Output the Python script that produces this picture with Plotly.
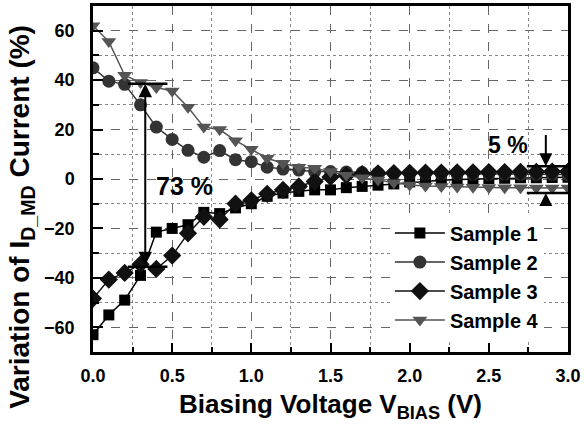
import plotly.graph_objects as go

x_bias = [round(i * 0.1, 1) for i in range(31)]

sample1 = [-63, -55, -49, -39, -21.5, -20, -18.5, -13.5, -14, -11.7, -10, -7, -5.7, -5, -4.4,
           -4.4, -3.5, -3, -2.5, -2, -1.2, -0.8, -0.5, -0.2, 0, 0.2, 0.3, 0.5, 0.5, 0.6, 0.7]
sample2 = [45, 39.6, 38.3, 30, 21, 16, 11.6, 8.8, 11.5, 7.8, 7, 4.8, 4, 3.6, 3,
           3, 2.8, 2.6, 2.4, 2.3, 2.2, 2.2, 2.1, 2.1, 2.0, 2.0, 2.0, 1.9, 1.9, 1.9, 1.8]
sample3 = [-48.4, -40.7, -38, -34.5, -36.4, -31, -22, -15.3, -16.4, -10, -8.6, -6, -4.4, -3, -1,
           0.8, 1.5, 2, 2.3, 2.4, 2.5, 2.6, 2.6, 2.7, 2.7, 2.8, 2.8, 2.9, 2.9, 3.0, 3.0]
sample4 = [62, 55.6, 42, 39, 37, 35.6, 29, 21, 20, 15.5, 12, 8.4, 6.4, 4.8, 4.4,
           3, 1.5, 0.5, -0.4, -1.5, -2.4, -2.8, -3, -3.2, -3.3, -3.4, -3.5, -3.5, -3.6, -3.6, -3.6]

series = [
    ("Sample 1", sample1, "square", "#000000", 11),
    ("Sample 2", sample2, "circle", "#333333", 13),
    ("Sample 3", sample3, "diamond", "#111111", 14),
    ("Sample 4", sample4, "triangle-down", "#555555", 13),
]

FONT = "Liberation Sans, Arial, sans-serif"

fig = go.Figure()
for name, ys, sym, col, size in series:
    fig.add_trace(go.Scatter(
        x=x_bias, y=ys, name=name, mode="lines+markers",
        line=dict(color=col, width=1.5),
        marker=dict(symbol=sym, size=size, color=col, line=dict(width=0)),
    ))

axis_common = dict(
    showline=True, linewidth=2.5, linecolor="black", mirror=True,
    ticks="inside", tickwidth=2, tickcolor="black",
    showgrid=True, gridcolor="#666666", griddash="dash", gridwidth=1,
    zeroline=False,
    tickfont=dict(family=FONT, size=18, color="black", weight="bold"),
)

fig.update_xaxes(
    **axis_common, range=[0, 3], dtick=0.5, tickformat=".1f", ticklen=9,
    ticklabelstandoff=6,
    minor=dict(dtick=0.25, ticks="inside", ticklen=5, tickwidth=1.5, tickcolor="black",
               showgrid=True, gridcolor="#888888", griddash="dot", gridwidth=1),
    title=dict(text="<b>Biasing Voltage V<sub>BIAS</sub> (V)</b>",
               font=dict(family=FONT, size=26, color="black"), standoff=10),
)
fig.update_yaxes(
    **axis_common, range=[-70, 70], dtick=20, ticklen=10, ticklabelstandoff=12,
    minor=dict(dtick=10, ticks="inside", ticklen=6, tickwidth=1.5, tickcolor="black",
               showgrid=True, gridcolor="#888888", griddash="dot", gridwidth=1),
)

# y-axis title as annotation to position it like the reference
fig.add_annotation(
    xref="paper", yref="paper", x=-0.152, y=0.39, xanchor="center", yanchor="middle",
    text="<b>Variation of I<sub>D_MD</sub> Current (%)</b>", textangle=-90, showarrow=False,
    font=dict(family=FONT, size=28, color="black"),
)

# 73 % annotation
fig.add_annotation(x=0.33, y=38.5, ax=0.33, ay=-35.5, xref="x", yref="y", axref="x", ayref="y",
                   text="", showarrow=True, arrowside="end+start", arrowhead=2, arrowsize=1.35,
                   arrowwidth=2, arrowcolor="black", standoff=0, startstandoff=0)
fig.add_shape(type="line", x0=0.22, x1=0.47, y0=38.5, y1=38.5, xref="x", yref="y",
              line=dict(color="black", width=2.5))
fig.add_shape(type="line", x0=0.22, x1=0.47, y0=-35.5, y1=-35.5, xref="x", yref="y",
              line=dict(color="black", width=2.5))
fig.add_annotation(x=0.58, y=-3, xref="x", yref="y", text="<b>73 %</b>", showarrow=False,
                   font=dict(family=FONT, size=25, color="black"))

# 5 % annotation
fig.add_shape(type="line", x0=2.74, x1=3.0, y0=5.2, y1=5.2, xref="x", yref="y",
              line=dict(color="black", width=2.5))
fig.add_shape(type="line", x0=2.74, x1=3.0, y0=-5.7, y1=-5.7, xref="x", yref="y",
              line=dict(color="black", width=2.5))
fig.add_annotation(x=2.86, y=5.2, ax=2.86, ay=18.4, xref="x", yref="y", axref="x", ayref="y",
                   text="", showarrow=True, arrowhead=2, arrowsize=1.3, arrowwidth=2,
                   arrowcolor="black", standoff=0)
fig.add_annotation(x=2.86, y=-5.7, ax=2.86, ay=-11.5, xref="x", yref="y", axref="x", ayref="y",
                   text="", showarrow=True, arrowhead=2, arrowsize=1.3, arrowwidth=2,
                   arrowcolor="black", standoff=0)
fig.add_annotation(x=2.62, y=13.6, xref="x", yref="y", text="<b>5 %</b>", showarrow=False,
                   font=dict(family=FONT, size=23, color="black"))

fig.update_layout(
    width=584, height=429,
    margin=dict(l=93, r=14, t=3, b=77),
    paper_bgcolor="white", plot_bgcolor="white",
    showlegend=True,
    legend=dict(x=0.625, y=0.4, xanchor="left", yanchor="top",
                bgcolor="white", borderwidth=0, tracegroupgap=0, itemwidth=50,
                font=dict(family=FONT, size=20, color="black", weight="bold")),
)

fig.write_html("out.html")
